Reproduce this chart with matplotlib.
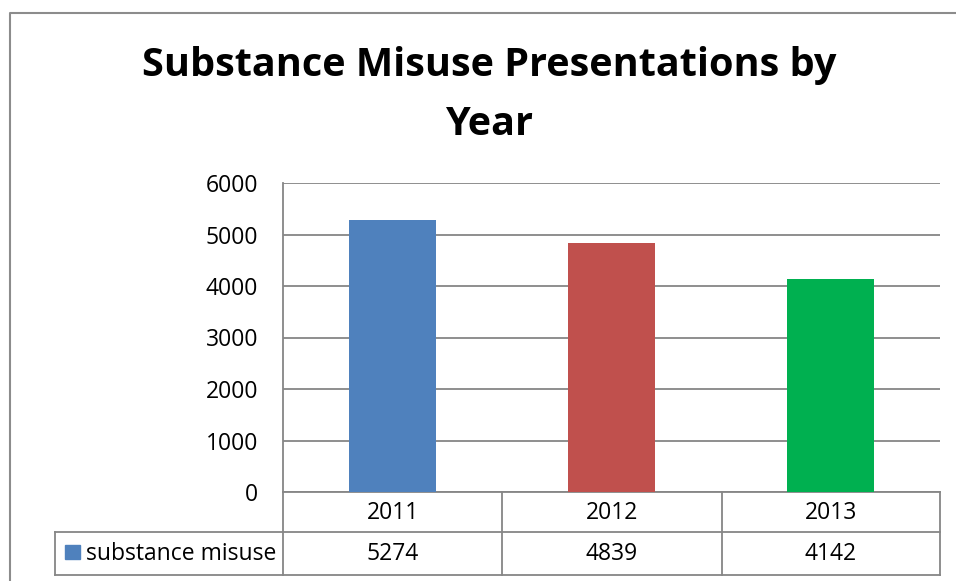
import matplotlib.pyplot as plt
from matplotlib.lines import Line2D
from matplotlib.patches import Rectangle

years = ["2011", "2012", "2013"]
values = [5274, 4839, 4142]
colors = ["#4F81BD", "#C0504D", "#00B050"]
series_name = "substance misuse"
title = "Substance Misuse Presentations by\nYear"

W, H = 956, 581
fig = plt.figure(figsize=(W / 100, H / 100), dpi=100)
plt.rcParams['font.family'] = ['Open Sans', 'DejaVu Sans']
grey = "#868686"
fs = 16.5

def fx(px):
    return px / W

def fy(py):
    return 1 - py / H

# plot area
left, right, top, bottom = 283, 940, 183, 492
ax = fig.add_axes([fx(left), fy(bottom), fx(right - left), (bottom - top) / H])
x = range(len(years))
ax.bar(x, values, width=0.4, color=colors, zorder=3)
ax.set_xlim(-0.5, len(years) - 0.5)
ax.set_ylim(0, 6000)
ax.set_yticks(range(0, 6001, 1000))
ax.yaxis.grid(True, color=grey, lw=1.3, zorder=0)
ax.set_xticks([])
ax.tick_params(axis='y', length=0, pad=18, labelsize=fs)
for s in ["top", "right"]:
    ax.spines[s].set_visible(False)
for s in ["left", "bottom"]:
    ax.spines[s].set_color(grey)
    ax.spines[s].set_linewidth(1.3)

fig.suptitle(title, fontsize=28.5, fontweight="bold", x=fx(489), y=fy(46), va="top", linespacing=1.68)

# data table
row1, row2, row3 = 492, 532, 575
col_edges = [left, 502, 722, right]

def hline(y, x0, x1):
    fig.add_artist(Line2D([fx(x0), fx(x1)], [fy(y), fy(y)], color=grey, lw=1.3))

def vline(xp, y0, y1):
    fig.add_artist(Line2D([fx(xp), fx(xp)], [fy(y0), fy(y1)], color=grey, lw=1.3))

hline(row2, 55, right)
hline(row3, 55, right)
vline(55, row2, row3)
for c in col_edges:
    vline(c, row1, row3)

for i, (yr, v) in enumerate(zip(years, values)):
    cx = (col_edges[i] + col_edges[i + 1]) / 2
    fig.text(fx(cx), fy((row1 + row2) / 2 + 1), yr, ha="center", va="center", fontsize=fs)
    fig.text(fx(cx), fy((row2 + row3) / 2), str(v), ha="center", va="center", fontsize=fs)

fig.add_artist(Rectangle((fx(65), fy(559)), fx(15), 14 / H, color=colors[0]))
fig.text(fx(86), fy((row2 + row3) / 2), series_name, ha="left", va="center", fontsize=fs)

# outer chart border
fig.add_artist(Line2D([fx(10), fx(10), fx(W)], [0, fy(13), fy(13)], color="#8c8c8c", lw=1.5))

fig.savefig("out.png", dpi=100)
